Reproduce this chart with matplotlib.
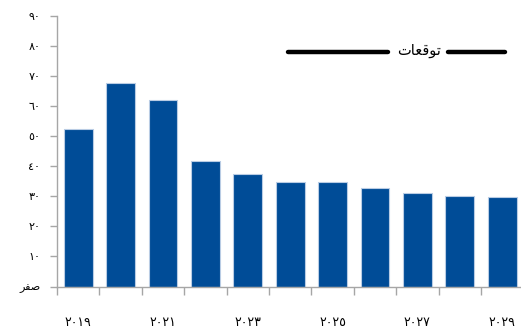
import matplotlib
matplotlib.use("Agg")
import matplotlib.pyplot as plt

plt.rcParams['font.family'] = ['DejaVu Sans', 'Noto Sans']

years = [2019, 2020, 2021, 2022, 2023, 2024, 2025, 2026, 2027, 2028, 2029]
values = [52.3, 67.7, 61.9, 41.6, 37.4, 34.6, 34.6, 32.7, 31.2, 30.0, 29.6]

# Arabic-Indic digits and pre-shaped Arabic words (visual order)
AR_DIGITS = str.maketrans("0123456789", "\u0660\u0661\u0662\u0663\u0664\u0665\u0666\u0667\u0668\u0669")
zero_label = "\uFEAE\uFED4\uFEBB"          # صفر
forecast_label = "\uFE95\uFE8E\uFECC\uFED7\uFEEE\uFE97"  # توقعات

y_ticks = list(range(0, 91, 10))
y_labels = [zero_label] + [str(v).translate(AR_DIGITS) for v in y_ticks[1:]]
x_label_years = [y for y in years if (y - 2019) % 2 == 0]

bar_color = "#004C97"
axis_color = "#A6A6A6"

fig = plt.figure(figsize=(5.21, 3.29), dpi=100)
ax = fig.add_axes([57 / 521, 42.5 / 329, 466.4 / 521, 271 / 329])

x = list(range(len(years)))
ax.bar(x, values, width=0.68, color=bar_color, edgecolor="#B9CCE4", linewidth=0.8, zorder=2)

ax.set_xlim(-0.5, len(years) - 0.5)
ax.set_ylim(0, 90)

for side in ("top", "right"):
    ax.spines[side].set_visible(False)
for side in ("left", "bottom"):
    ax.spines[side].set_color(axis_color)
    ax.spines[side].set_linewidth(1.0)

ax.set_yticks(y_ticks)
ax.set_yticklabels(y_labels, fontsize=8)
ax.tick_params(axis="y", direction="out", length=5, width=1, color=axis_color, pad=7)

# tick marks between categories, labels under every other year
ax.set_xticks([i - 0.5 for i in range(len(years) + 1)])
ax.set_xticklabels([])
ax.tick_params(axis="x", which="major", direction="out", length=6, width=1, color=axis_color)
ax.set_xticks([years.index(y) for y in x_label_years], minor=True)
ax.set_xticklabels([str(y).translate(AR_DIGITS) for y in x_label_years], minor=True, fontsize=9)
ax.tick_params(axis="x", which="minor", length=0, pad=21)

# forecast marker
ax.plot([0.495, 0.710], [0.867, 0.867], transform=ax.transAxes, color="black",
        lw=3.2, solid_capstyle="round", clip_on=False, zorder=3)
ax.plot([0.838, 0.961], [0.867, 0.867], transform=ax.transAxes, color="black",
        lw=3.2, solid_capstyle="round", clip_on=False, zorder=3)
ax.text(0.776, 0.872, forecast_label, transform=ax.transAxes, ha="center", va="center",
        fontsize=10.5, color="black")

fig.savefig("out.png", dpi=100)
